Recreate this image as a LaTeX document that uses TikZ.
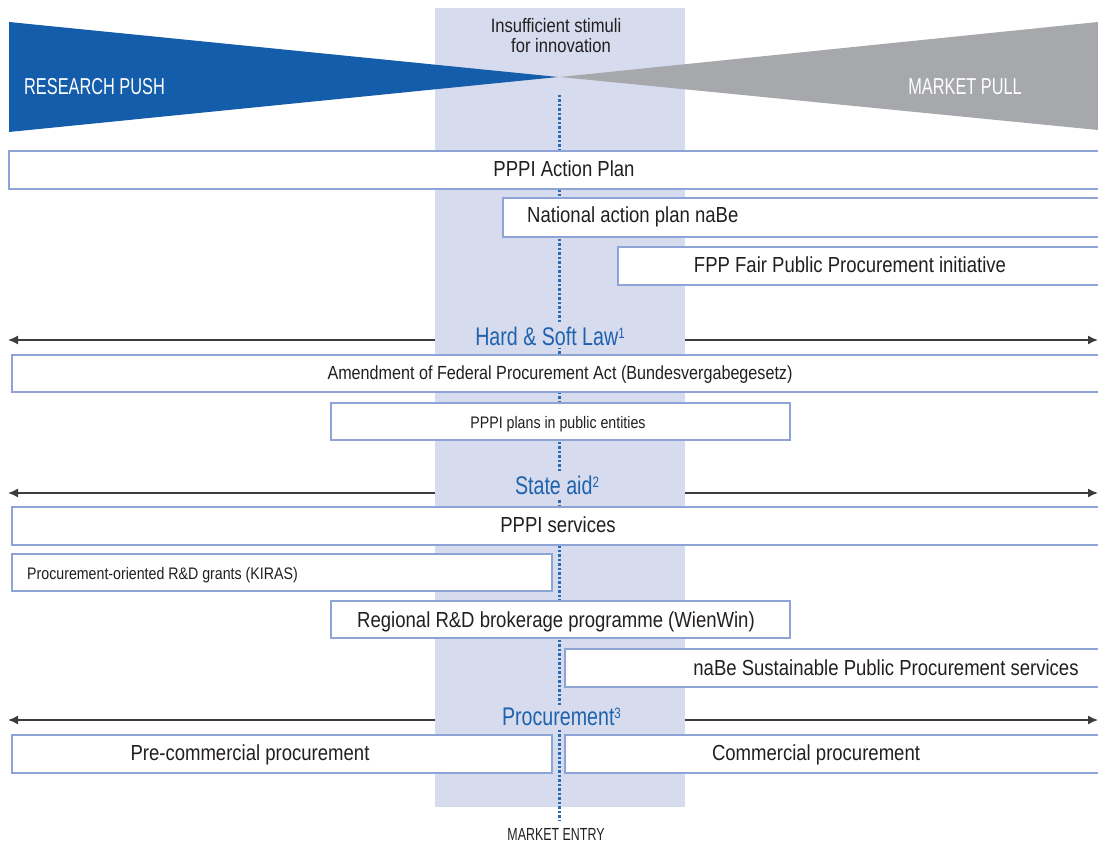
\documentclass[tikz,border=0pt]{standalone}
\usepackage{fontspec}
\setmainfont{Liberation Sans}
\newfontfamily\fMain{Liberation Sans}[FakeStretch=0.85]
\newfontfamily\fBlue{Liberation Sans}[FakeStretch=0.77]
\newfontfamily\fCaps{Liberation Sans}[FakeStretch=0.71]
\usetikzlibrary{arrows.meta}
\definecolor{band}{HTML}{D6DBEE}
\definecolor{boxline}{HTML}{8FA4D6}
\definecolor{pushblue}{HTML}{135DAA}
\definecolor{pullgray}{HTML}{A7A8AB}
\definecolor{labelblue}{HTML}{1F62AD}
\definecolor{dotblue}{HTML}{2A69B3}
\definecolor{arrowgray}{HTML}{3C3C3C}
\definecolor{textdark}{HTML}{231F20}
\newcommand\supnum[1]{\raisebox{7pt}{\fontsize{15}{15}\selectfont #1}}
\begin{document}
\begin{tikzpicture}[x=1pt,y=-1pt,
  box/.style={draw=boxline, line width=2.5pt, fill=white, inner sep=0pt, outer sep=0pt, anchor=north west},
  txt/.style={inner sep=0pt, text=textdark, font=\fMain\fontsize{21.8}{24}\selectfont},
  smalltxt/.style={inner sep=0pt, text=textdark, font=\fMain\fontsize{16.7}{19}\selectfont},
  midtxt/.style={inner sep=0pt, text=textdark, font=\fMain\fontsize{19}{22}\selectfont},
  instxt/.style={inner sep=0pt, text=textdark, font=\fMain\fontsize{19.5}{22}\selectfont},
  bluelabel/.style={inner sep=3pt, fill=band, text=labelblue, font=\fBlue\fontsize{25.5}{28}\selectfont},
  capslabel/.style={inner sep=0pt, text=white, font=\fCaps\fontsize{23}{26}\selectfont},
  entrylabel/.style={inner sep=0pt, text=textdark, font=\fCaps\fontsize{17.5}{20}\selectfont},
  dotline/.style={draw=dotblue, line width=3pt, dash pattern=on 2.5pt off 2pt},
  arr/.style={draw=arrowgray, line width=1.5pt, -{Latex[length=10pt,width=9pt]}}
]
\useasboundingbox (0,0) rectangle (1098,842);
\begin{scope}
\clip (0,0) rectangle (1098,842);
% band
\fill[band] (435,8) rectangle (685,807);
% triangles
\fill[pullgray] (1098,22) -- (560,77) -- (1098,130) -- cycle;
\fill[pushblue] (9,22) -- (558,77) -- (9,132) -- cycle;
% dotted line
\coordinate (dtop) at (559,95);
\coordinate (dbot) at (559,820);
\draw[dotline] (dtop) -- (dbot);
% arrows
\coordinate (hlA) at (435,340); \coordinate (hlB) at (8,340);
\coordinate (hrA) at (685,340); \coordinate (hrB) at (1098,340);
\coordinate (slA) at (435,493); \coordinate (slB) at (8,493);
\coordinate (srA) at (685,493); \coordinate (srB) at (1098,493);
\coordinate (plA) at (435,720); \coordinate (plB) at (8,720);
\coordinate (prA) at (685,720); \coordinate (prB) at (1098,720);
\draw[arr] (hlA) -- (hlB);
\draw[arr] (hrA) -- (hrB);
\draw[arr] (slA) -- (slB);
\draw[arr] (srA) -- (srB);
\draw[arr] (plA) -- (plB);
\draw[arr] (prA) -- (prB);
% boxes
\node[box, minimum width=1111pt, minimum height=38pt] (b1) at (9,151) {};
\node[box, minimum width=617pt, minimum height=39pt] (b2) at (503,198) {};
\node[box, minimum width=502pt, minimum height=38pt] (b3) at (618,247) {};
\node[box, minimum width=1108pt, minimum height=37pt] (b4) at (12,355) {};
\node[box, minimum width=459pt, minimum height=37pt] (b5) at (331,403) {};
\node[box, minimum width=1108pt, minimum height=38pt] (b6) at (12,507) {};
\node[box, minimum width=540pt, minimum height=37pt] (b7) at (12,554) {};
\node[box, minimum width=459pt, minimum height=37pt] (b8) at (331,601) {};
\node[box, minimum width=555pt, minimum height=38pt] (b9) at (565,649) {};
\node[box, minimum width=540pt, minimum height=38pt] (b10) at (12,735) {};
\node[box, minimum width=555pt, minimum height=38pt] (b11) at (565,735) {};
\end{scope}
% texts
\node[capslabel, anchor=base west] (push) at (24,94.5) {RESEARCH PUSH};
\node[capslabel, anchor=base east] (pull) at (1022,94.5) {MARKET PULL};
\node[instxt, anchor=base] (ins1) at (556,33) {Insufficient stimuli};
\node[instxt, anchor=base] (ins2) at (561,53) {for innovation};
\node[txt, anchor=base] (t1) at (564,176.5) {PPPI Action Plan};
\node[txt, anchor=base west] (t2) at (527,223) {National action plan naBe};
\node[txt, anchor=base] (t3) at (850,272.5) {FPP Fair Public Procurement initiative};
\node[bluelabel, anchor=base] (hsl) at (550,345) {Hard \& Soft Law\supnum{1}};
\node[midtxt, anchor=base] (t4) at (560,379) {Amendment of Federal Procurement Act (Bundesvergabegesetz)};
\node[smalltxt, anchor=base] (t5) at (558,428) {PPPI plans in public entities};
\node[bluelabel, anchor=base] (sa) at (557,494.5) {State aid\supnum{2}};
\node[txt, anchor=base] (t6) at (558,532.5) {PPPI services};
\node[smalltxt, anchor=base west] (t7) at (27,579) {Procurement-oriented R\&D grants (KIRAS)};
\node[txt, anchor=base] (t8) at (556,627.5) {Regional R\&D brokerage programme (WienWin)};
\node[txt, anchor=base] (t9) at (886,675.5) {naBe Sustainable Public Procurement services};
\node[bluelabel, anchor=base] (pr) at (561.5,725.5) {Procurement\supnum{3}};
\node[txt, anchor=base] (t10) at (250,760.5) {Pre-commercial procurement};
\node[txt, anchor=base] (t11) at (816,760.5) {Commercial procurement};
\node[entrylabel, anchor=base] (me) at (556,840) {MARKET ENTRY};
\end{tikzpicture}
\end{document}
